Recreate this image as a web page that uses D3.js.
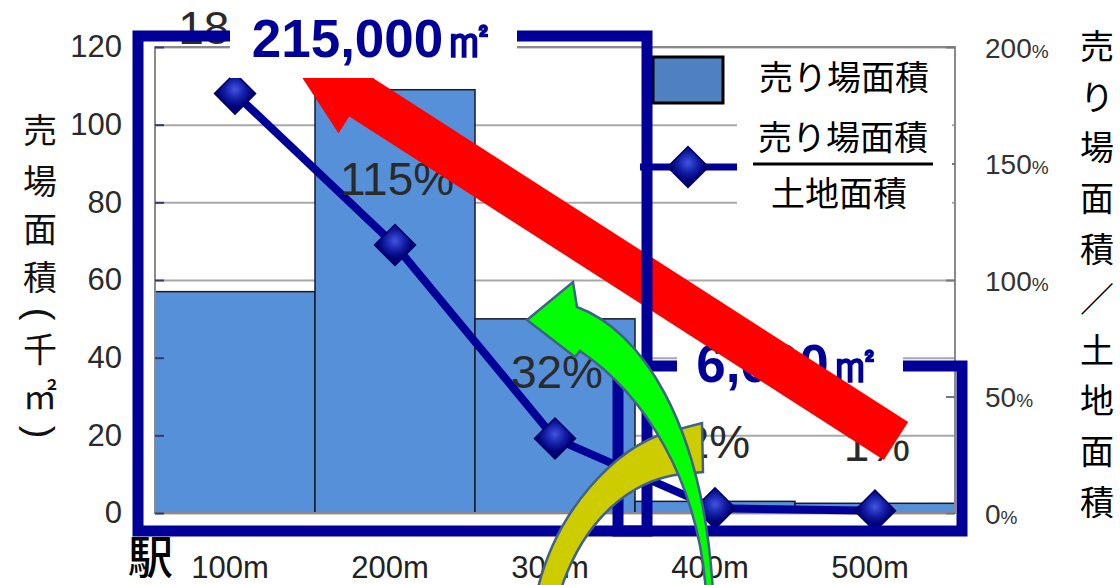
<!DOCTYPE html>
<html>
<head>
<meta charset="utf-8">
<script src="https://cdn.jsdelivr.net/npm/d3@7"></script>
<style>
  html, body { margin: 0; padding: 0; background: #fff; }
  svg { display: block; }
</style>
</head>
<body>
<svg id="chart" width="1120" height="585"></svg>
<script>
// ---- data ----
const categories = ["100m", "200m", "300m", "400m", "500m"];
const floorArea = [57, 109, 50, 3, 2.5];          // 売り場面積 (千㎡)
const areaRatio = [180, 115, 32, 2, 1];           // 売り場面積／土地面積 (%)
const leftTicks = [0, 20, 40, 60, 80, 100, 120];
const rightTicks = [0, 50, 100, 150, 200];
const leftTitle = ["売", "場", "面", "積", "(", "千", "㎡", ")"];
const rightTitle = ["売", "り", "場", "面", "積", "／", "土", "地", "面", "積"];
const legendBar = "売り場面積";
const legendRatioTop = "売り場面積";
const legendRatioBottom = "土地面積";
const originLabel = "駅";
const nearTotal = "215,000㎡";
const farTotal = "6,000㎡";

// ---- layout ----
const plot = { left: 155, right: 955, top: 47, bottom: 513 };
const NAVY = "#000099";
const BAR = "#5690d8";
const NUM_FONT = "'Liberation Sans', Arial, sans-serif";
const NARROW_FONT = "'Liberation Sans Narrow', 'Arial Narrow', 'Liberation Sans', sans-serif";
const JP_FONT = "'Noto Sans CJK JP', 'Noto Sans', sans-serif";

const svg = d3.select("#chart");

const x = d3.scaleBand().domain(categories).range([plot.left, plot.right]).padding(0);
const yL = d3.scaleLinear().domain([0, 120]).range([plot.bottom, plot.top]);
const yR = d3.scaleLinear().domain([0, 200]).range([plot.bottom, plot.top]);
const cx = c => x(c) + x.bandwidth() / 2;

const defs = svg.append("defs");
const grad = defs.append("radialGradient").attr("id", "gem").attr("cx", "40%").attr("cy", "40%").attr("r", "60%");
grad.append("stop").attr("offset", "0%").attr("stop-color", "#4355e0");
grad.append("stop").attr("offset", "55%").attr("stop-color", "#1420a8");
grad.append("stop").attr("offset", "100%").attr("stop-color", "#000075");

// ---- plot area and gridlines ----
svg.append("rect").attr("x", plot.left).attr("y", plot.top)
  .attr("width", plot.right - plot.left).attr("height", plot.bottom - plot.top)
  .attr("fill", "#fff");

const grid = svg.append("g").attr("transform", `translate(${plot.left},0)`)
  .call(d3.axisLeft(yL).tickValues(leftTicks).tickSize(-(plot.right - plot.left)).tickFormat(""));
grid.select(".domain").remove();
grid.selectAll("line").attr("stroke", "#a8a8a8").attr("stroke-width", 2);

// ---- bars ----
svg.append("g").selectAll("rect").data(categories).join("rect")
  .attr("x", d => x(d))
  .attr("y", (d, i) => yL(floorArea[i]))
  .attr("width", x.bandwidth())
  .attr("height", (d, i) => yL(0) - yL(floorArea[i]))
  .attr("fill", BAR)
  .attr("stroke", "#1a1a2a")
  .attr("stroke-width", 1.5);

// plot border
svg.append("rect").attr("x", plot.left).attr("y", plot.top)
  .attr("width", plot.right - plot.left).attr("height", plot.bottom - plot.top)
  .attr("fill", "none").attr("stroke", "#8a8a8a").attr("stroke-width", 2);

// ---- axes ----
const axL = svg.append("g").attr("transform", `translate(${plot.left},0)`)
  .call(d3.axisLeft(yL).tickValues(leftTicks).tickSize(-9).tickPadding(33));
axL.select(".domain").remove();
axL.selectAll("line").attr("stroke", "#333a70").attr("stroke-width", 2);
axL.selectAll("text").attr("font-family", NUM_FONT).attr("font-size", 31).attr("fill", "#2a2a2a");

const axR = svg.append("g").attr("transform", `translate(${plot.right},0)`)
  .call(d3.axisRight(yR).tickValues(rightTicks).tickSize(-9).tickPadding(30).tickFormat(""));
axR.select(".domain").remove();
axR.selectAll("line").attr("stroke", "#777").attr("stroke-width", 2);
axR.selectAll(".tick").append("text")
  .attr("x", 30).attr("dy", "0.36em")
  .attr("font-family", NUM_FONT).attr("font-size", 28).attr("fill", "#333")
  .attr("text-anchor", "start")
  .each(function (d) {
    const t = d3.select(this);
    t.append("tspan").text(d);
    t.append("tspan").attr("font-size", 19).text("%");
  });

const axB = svg.append("g").attr("transform", `translate(0,${plot.bottom})`)
  .call(d3.axisBottom(x).tickSize(0).tickPadding(43));
axB.select(".domain").remove();
axB.selectAll("text").attr("font-family", NUM_FONT).attr("font-size", 31).attr("fill", "#222").attr("dx", -5);

// ---- ratio line ----
const pts = categories.map((c, i) => ({ c, v: areaRatio[i] }));
svg.append("path").datum(pts)
  .attr("d", d3.line().x(d => cx(d.c)).y(d => yR(d.v)))
  .attr("fill", "none").attr("stroke", NAVY).attr("stroke-width", 8)
  .attr("stroke-linejoin", "round");

const diamond = d3.symbol(d3.symbolSquare, 840);
svg.append("g").selectAll("path").data(pts).join("path")
  .attr("d", diamond)
  .attr("transform", d => `translate(${cx(d.c)},${yR(d.v)}) rotate(45)`)
  .attr("fill", "url(#gem)").attr("stroke", "#000066").attr("stroke-width", 1.5);

// data labels above each point
svg.append("g").selectAll("text").data(pts).join("text")
  .attr("x", d => cx(d.c) + 2)
  .attr("y", d => yR(d.v) - 50)
  .attr("text-anchor", "middle")
  .attr("font-family", NARROW_FONT).attr("font-size", 46).attr("fill", "#2a2a2a")
  .text(d => d.v + "%");

// ---- legend ----
svg.append("rect").attr("x", 653).attr("y", 57).attr("width", 70).attr("height", 46)
  .attr("fill", "#4f80bf").attr("stroke", "#000").attr("stroke-width", 3);
svg.append("line").attr("x1", 640).attr("x2", 737).attr("y1", 167).attr("y2", 167)
  .attr("stroke", NAVY).attr("stroke-width", 7);
svg.append("path").attr("d", diamond)
  .attr("transform", "translate(688,167) rotate(45)")
  .attr("fill", "url(#gem)").attr("stroke", "#000066").attr("stroke-width", 1.5);
svg.append("rect").attr("x", 737).attr("y", 49).attr("width", 215).attr("height", 192).attr("fill", "#fff");
const lg = svg.append("g").attr("font-family", JP_FONT).attr("font-size", 34).attr("fill", "#000").attr("text-anchor", "middle");
lg.append("text").attr("x", 844).attr("y", 90).text(legendBar);
lg.append("text").attr("x", 843).attr("y", 150).text(legendRatioTop);
lg.append("line").attr("x1", 753).attr("x2", 933).attr("y1", 164).attr("y2", 164).attr("stroke", "#000").attr("stroke-width", 3);
lg.append("text").attr("x", 839).attr("y", 206).text(legendRatioBottom);

// ---- axis titles (stacked vertically, brackets turned sideways) ----
const leftY = [131, 182, 230, 278, 314, 350, 397, 432];
const isBracket = d => d === "(" || d === ")";
const tL = svg.append("g").attr("fill", "#111").attr("text-anchor", "middle");
const cells = tL.selectAll("g").data(leftTitle).join("g")
  .attr("transform", (d, i) => `translate(40,${leftY[i]})`);
cells.filter(d => !isBracket(d)).append("text")
  .attr("dy", "0.36em").attr("font-family", JP_FONT).attr("font-size", 34)
  .text(d => d);
cells.filter(isBracket).append("g").attr("transform", "rotate(90)")
  .append("text")
  .attr("dy", "0.34em").attr("font-family", NUM_FONT).attr("font-size", 38)
  .text(d => d);

const tR = svg.append("g").attr("font-family", JP_FONT).attr("font-size", 34).attr("fill", "#000").attr("text-anchor", "middle");
tR.selectAll("text").data(rightTitle).join("text")
  .attr("x", 1097).attr("y", (d, i) => 47 + i * 50.6).attr("dy", "0.36em").text(d => d);

svg.append("text").attr("x", 128).attr("y", 574)
  .attr("font-family", JP_FONT).attr("font-size", 45).attr("font-weight", 500).attr("fill", "#000")
  .text(originLabel);

// ---- callouts ----
// frame around the stations beyond 300m
svg.append("rect").attr("x", 618).attr("y", 366).attr("width", 344).attr("height", 165)
  .attr("fill", "none").attr("stroke", NAVY).attr("stroke-width", 11);
svg.append("rect").attr("x", 677).attr("y", 332).attr("width", 226).attr("height", 66).attr("fill", "#fff");
svg.append("text").attr("x", 789).attr("y", 382).attr("text-anchor", "middle")
  .attr("font-family", NUM_FONT).attr("font-weight", "bold").attr("font-size", 53).attr("fill", NAVY)
  .text(farTotal);

// red block arrow pointing from the far zone to the near zone
(function () {
  const tip = [281.6, 46], base = [361.5, 97.5], tail = [896, 441];
  const len = Math.hypot(tail[0] - base[0], tail[1] - base[1]);
  const u = [(tail[0] - base[0]) / len, (tail[1] - base[1]) / len];
  const n = [-u[1], u[0]];
  const body = 22.5, head = 42.6;
  const off = (p, k) => [p[0] + n[0] * k, p[1] + n[1] * k];
  const poly = [tip, off(base, head), off(base, body), off(tail, body), off(tail, -body), off(base, -body), off(base, -head)];
  svg.append("polygon").attr("points", poly.map(p => p.join(",")).join(" ")).attr("fill", "#ff0000");
})();

// frame around the stations within 300m
svg.append("rect").attr("x", 138).attr("y", 36).attr("width", 509).attr("height", 495)
  .attr("fill", "none").attr("stroke", NAVY).attr("stroke-width", 11);
svg.append("rect").attr("x", 230).attr("y", 10).attr("width", 287).attr("height", 68).attr("fill", "#fff");
svg.append("text").attr("x", 374).attr("y", 57).attr("text-anchor", "middle")
  .attr("font-family", NUM_FONT).attr("font-weight", "bold").attr("font-size", 53).attr("fill", NAVY)
  .text(nearTotal);

// curved arrows
svg.append("path")
  .attr("d", "M537,592 C556,510 615,448 668,432 L702,423 L703,472 L682,474 C630,480 583,520 560,592 Z")
  .attr("fill", "#cccc00").attr("stroke", "#41618a").attr("stroke-width", 2.5);
svg.append("path")
  .attr("d", "M527,320 L573,282 L577,307 C640,330 703,420 713,592 L706,592 C698,480 645,395 580,351 L575,357 Z")
  .attr("fill", "#00ff00").attr("stroke", "#41618a").attr("stroke-width", 2.5);
</script>
</body>
</html>
